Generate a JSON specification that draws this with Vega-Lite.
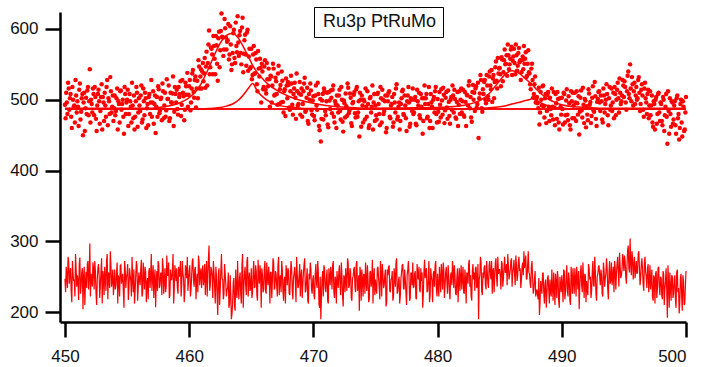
{
"$schema": "https://vega.github.io/schema/vega-lite/v6.json",
"width": 626,
"height": 310,
"padding": {"left": 60, "top": 12, "right": 16, "bottom": 45},
"autosize": {"type": "none"},
"background": "white",
"config": {"view": {"stroke": null}, "font": "Liberation Sans"},
"datasets": {
"obs": [
{"x":450.0,"y":493,"r":247},{"x":450.1,"y":510,"r":264},{"x":450.2,"y":480,"r":234},{"x":450.3,"y":516,"r":270},{"x":450.4,"y":502,"r":256},{"x":450.5,"y":476,"r":230},{"x":450.6,"y":518,"r":272},{"x":450.7,"y":490,"r":244},{"x":450.8,"y":468,"r":222},{"x":450.9,"y":506,"r":260},
{"x":451.0,"y":498,"r":252},{"x":451.1,"y":463,"r":217},{"x":451.2,"y":523,"r":277},{"x":451.3,"y":483,"r":237},{"x":451.4,"y":508,"r":262},{"x":451.5,"y":496,"r":250},{"x":451.6,"y":456,"r":210},{"x":451.7,"y":503,"r":257},{"x":451.8,"y":513,"r":267},{"x":451.9,"y":478,"r":232},
{"x":452.0,"y":543,"r":297},{"x":452.1,"y":500,"r":254},{"x":452.2,"y":482,"r":236},{"x":452.3,"y":508,"r":262},{"x":452.4,"y":518,"r":272},{"x":452.5,"y":473,"r":227},{"x":452.6,"y":492,"r":246},{"x":452.7,"y":514,"r":268},{"x":452.8,"y":466,"r":220},{"x":452.9,"y":504,"r":258},
{"x":453.0,"y":458,"r":212},{"x":453.1,"y":496,"r":250},{"x":453.2,"y":510,"r":264},{"x":453.3,"y":476,"r":230},{"x":453.4,"y":528,"r":282},{"x":453.5,"y":502,"r":256},{"x":453.6,"y":480,"r":234},{"x":453.7,"y":512,"r":266},{"x":453.8,"y":490,"r":244},{"x":453.9,"y":470,"r":224},
{"x":454.0,"y":506,"r":260},{"x":454.1,"y":484,"r":238},{"x":454.2,"y":516,"r":270},{"x":454.3,"y":498,"r":252},{"x":454.4,"y":468,"r":222},{"x":454.5,"y":513,"r":267},{"x":454.6,"y":494,"r":248},{"x":454.7,"y":476,"r":230},{"x":454.8,"y":518,"r":272},{"x":454.9,"y":480,"r":234},
{"x":455.0,"y":500,"r":254},{"x":455.1,"y":463,"r":217},{"x":455.2,"y":508,"r":262},{"x":455.3,"y":490,"r":244},{"x":455.4,"y":524,"r":278},{"x":455.5,"y":474,"r":228},{"x":455.6,"y":458,"r":212},{"x":455.7,"y":498,"r":252},{"x":455.8,"y":510,"r":264},{"x":455.9,"y":482,"r":236},
{"x":456.0,"y":492,"r":246},{"x":456.1,"y":506,"r":260},{"x":456.2,"y":468,"r":222},{"x":456.3,"y":516,"r":270},{"x":456.4,"y":478,"r":232},{"x":456.5,"y":502,"r":256},{"x":456.6,"y":488,"r":242},{"x":456.7,"y":464,"r":218},{"x":456.8,"y":508,"r":262},{"x":456.9,"y":496,"r":250},
{"x":457.0,"y":476,"r":230},{"x":457.1,"y":512,"r":266},{"x":457.2,"y":494,"r":248},{"x":457.3,"y":453,"r":207},{"x":457.4,"y":504,"r":258},{"x":457.5,"y":519,"r":272},{"x":457.6,"y":481,"r":234},{"x":457.7,"y":501,"r":254},{"x":457.8,"y":471,"r":224},{"x":457.9,"y":512,"r":264},
{"x":458.0,"y":492,"r":244},{"x":458.1,"y":476,"r":228},{"x":458.2,"y":529,"r":280},{"x":458.3,"y":501,"r":252},{"x":458.4,"y":470,"r":220},{"x":458.5,"y":510,"r":260},{"x":458.6,"y":496,"r":246},{"x":458.7,"y":533,"r":282},{"x":458.8,"y":483,"r":232},{"x":458.9,"y":508,"r":256},
{"x":459.0,"y":514,"r":262},{"x":459.1,"y":479,"r":226},{"x":459.2,"y":504,"r":250},{"x":459.3,"y":526,"r":272},{"x":459.4,"y":493,"r":238},{"x":459.5,"y":510,"r":254},{"x":459.6,"y":471,"r":214},{"x":459.7,"y":524,"r":266},{"x":459.8,"y":507,"r":248},{"x":459.9,"y":490,"r":230},
{"x":460.0,"y":519,"r":258},{"x":460.1,"y":485,"r":222},{"x":460.2,"y":516,"r":252},{"x":460.3,"y":542,"r":276},{"x":460.4,"y":503,"r":236},{"x":460.5,"y":533,"r":264},{"x":460.6,"y":516,"r":244},{"x":460.7,"y":502,"r":228},{"x":460.8,"y":547,"r":270},{"x":460.9,"y":533,"r":254},
{"x":461.0,"y":516,"r":234},{"x":461.1,"y":552,"r":266},{"x":461.2,"y":537,"r":248},{"x":461.3,"y":517,"r":224},{"x":461.4,"y":568,"r":272},{"x":461.5,"y":552,"r":252},{"x":461.6,"y":598,"r":294},{"x":461.7,"y":546,"r":238},{"x":461.8,"y":572,"r":260},{"x":461.9,"y":536,"r":220},
{"x":462.0,"y":576,"r":256},{"x":462.1,"y":536,"r":212},{"x":462.2,"y":577,"r":250},{"x":462.3,"y":527,"r":196},{"x":462.4,"y":596,"r":262},{"x":462.5,"y":570,"r":232},{"x":462.6,"y":622,"r":282},{"x":462.7,"y":588,"r":246},{"x":462.8,"y":571,"r":226},{"x":462.9,"y":601,"r":254},
{"x":463.0,"y":571,"r":222},{"x":463.1,"y":584,"r":234},{"x":463.2,"y":557,"r":206},{"x":463.3,"y":604,"r":252},{"x":463.4,"y":542,"r":190},{"x":463.5,"y":566,"r":214},{"x":463.6,"y":599,"r":248},{"x":463.7,"y":552,"r":202},{"x":463.8,"y":576,"r":228},{"x":463.9,"y":618,"r":272},
{"x":464.0,"y":562,"r":218},{"x":464.1,"y":597,"r":256},{"x":464.2,"y":550,"r":212},{"x":464.3,"y":616,"r":282},{"x":464.4,"y":565,"r":234},{"x":464.5,"y":592,"r":264},{"x":464.6,"y":548,"r":224},{"x":464.7,"y":599,"r":278},{"x":464.8,"y":561,"r":244},{"x":464.9,"y":544,"r":230},
{"x":465.0,"y":572,"r":262},{"x":465.1,"y":535,"r":228},{"x":465.2,"y":576,"r":272},{"x":465.3,"y":537,"r":236},{"x":465.4,"y":557,"r":258},{"x":465.5,"y":512,"r":216},{"x":465.6,"y":544,"r":250},{"x":465.7,"y":558,"r":266},{"x":465.8,"y":496,"r":206},{"x":465.9,"y":540,"r":252},
{"x":466.0,"y":518,"r":232},{"x":466.1,"y":556,"r":272},{"x":466.2,"y":509,"r":226},{"x":466.3,"y":529,"r":248},{"x":466.4,"y":544,"r":264},{"x":466.5,"y":490,"r":212},{"x":466.6,"y":533,"r":256},{"x":466.7,"y":520,"r":244},{"x":466.8,"y":544,"r":270},{"x":466.9,"y":507,"r":234},
{"x":467.0,"y":526,"r":254},{"x":467.1,"y":493,"r":222},{"x":467.2,"y":548,"r":278},{"x":467.3,"y":515,"r":246},{"x":467.4,"y":496,"r":228},{"x":467.5,"y":527,"r":260},{"x":467.6,"y":482,"r":216},{"x":467.7,"y":515,"r":250},{"x":467.8,"y":530,"r":266},{"x":467.9,"y":502,"r":238},
{"x":468.0,"y":521,"r":258},{"x":468.1,"y":486,"r":224},{"x":468.2,"y":534,"r":272},{"x":468.3,"y":493,"r":232},{"x":468.4,"y":508,"r":248},{"x":468.5,"y":524,"r":264},{"x":468.6,"y":473,"r":214},{"x":468.7,"y":512,"r":254},{"x":468.8,"y":494,"r":236},{"x":468.9,"y":525,"r":268},
{"x":469.0,"y":507,"r":250},{"x":469.1,"y":476,"r":220},{"x":469.2,"y":512,"r":256},{"x":469.3,"y":531,"r":276},{"x":469.4,"y":485,"r":230},{"x":469.5,"y":517,"r":262},{"x":469.6,"y":466,"r":212},{"x":469.7,"y":500,"r":246},{"x":469.8,"y":513,"r":260},{"x":469.9,"y":479,"r":226},
{"x":470.0,"y":505,"r":252},{"x":470.1,"y":471,"r":218},{"x":470.2,"y":520,"r":268},{"x":470.3,"y":486,"r":234},{"x":470.4,"y":508,"r":256},{"x":470.5,"y":457,"r":206},{"x":470.6,"y":441,"r":190},{"x":470.7,"y":499,"r":248},{"x":470.8,"y":472,"r":222},{"x":470.9,"y":512,"r":262},
{"x":471.0,"y":478,"r":228},{"x":471.1,"y":510,"r":260},{"x":471.2,"y":461,"r":212},{"x":471.3,"y":499,"r":250},{"x":471.4,"y":513,"r":264},{"x":471.5,"y":481,"r":232},{"x":471.6,"y":520,"r":272},{"x":471.7,"y":468,"r":220},{"x":471.8,"y":494,"r":246},{"x":471.9,"y":506,"r":258},
{"x":472.0,"y":482,"r":234},{"x":472.1,"y":514,"r":266},{"x":472.2,"y":472,"r":224},{"x":472.3,"y":500,"r":252},{"x":472.4,"y":455,"r":208},{"x":472.5,"y":495,"r":248},{"x":472.6,"y":509,"r":262},{"x":472.7,"y":477,"r":230},{"x":472.8,"y":517,"r":270},{"x":472.9,"y":485,"r":238},
{"x":473.0,"y":503,"r":256},{"x":473.1,"y":463,"r":216},{"x":473.2,"y":497,"r":250},{"x":473.3,"y":511,"r":264},{"x":473.4,"y":475,"r":228},{"x":473.5,"y":518,"r":272},{"x":473.6,"y":482,"r":236},{"x":473.7,"y":448,"r":202},{"x":473.8,"y":500,"r":254},{"x":473.9,"y":506,"r":260},
{"x":474.0,"y":468,"r":222},{"x":474.1,"y":498,"r":252},{"x":474.2,"y":516,"r":270},{"x":474.3,"y":476,"r":230},{"x":474.4,"y":494,"r":248},{"x":474.5,"y":464,"r":218},{"x":474.6,"y":504,"r":258},{"x":474.7,"y":490,"r":244},{"x":474.8,"y":458,"r":212},{"x":474.9,"y":508,"r":262},
{"x":475.0,"y":492,"r":246},{"x":475.1,"y":472,"r":226},{"x":475.2,"y":510,"r":264},{"x":475.3,"y":480,"r":234},{"x":475.4,"y":518,"r":272},{"x":475.5,"y":468,"r":222},{"x":475.6,"y":500,"r":254},{"x":475.7,"y":484,"r":238},{"x":475.8,"y":506,"r":260},{"x":475.9,"y":460,"r":214},
{"x":476.0,"y":498,"r":252},{"x":476.1,"y":512,"r":266},{"x":476.2,"y":474,"r":228},{"x":476.3,"y":494,"r":248},{"x":476.4,"y":462,"r":216},{"x":476.5,"y":508,"r":262},{"x":476.6,"y":482,"r":236},{"x":476.7,"y":522,"r":276},{"x":476.8,"y":476,"r":230},{"x":476.9,"y":496,"r":250},
{"x":477.0,"y":470,"r":224},{"x":477.1,"y":502,"r":256},{"x":477.2,"y":514,"r":268},{"x":477.3,"y":478,"r":232},{"x":477.4,"y":492,"r":246},{"x":477.5,"y":456,"r":210},{"x":477.6,"y":506,"r":260},{"x":477.7,"y":496,"r":250},{"x":477.8,"y":466,"r":220},{"x":477.9,"y":500,"r":254},
{"x":478.0,"y":516,"r":270},{"x":478.1,"y":482,"r":236},{"x":478.2,"y":504,"r":258},{"x":478.3,"y":464,"r":218},{"x":478.4,"y":498,"r":252},{"x":478.5,"y":510,"r":264},{"x":478.6,"y":474,"r":228},{"x":478.7,"y":490,"r":244},{"x":478.8,"y":452,"r":206},{"x":478.9,"y":502,"r":256},
{"x":479.0,"y":494,"r":248},{"x":479.1,"y":508,"r":262},{"x":479.2,"y":476,"r":230},{"x":479.3,"y":518,"r":272},{"x":479.4,"y":470,"r":224},{"x":479.5,"y":496,"r":250},{"x":479.6,"y":460,"r":214},{"x":479.7,"y":504,"r":258},{"x":479.8,"y":512,"r":266},{"x":479.9,"y":480,"r":234},
{"x":480.0,"y":501,"r":254},{"x":480.1,"y":469,"r":222},{"x":480.2,"y":493,"r":246},{"x":480.3,"y":515,"r":268},{"x":480.4,"y":479,"r":232},{"x":480.5,"y":507,"r":260},{"x":480.6,"y":485,"r":238},{"x":480.7,"y":511,"r":264},{"x":480.8,"y":473,"r":226},{"x":480.9,"y":497,"r":250},
{"x":481.0,"y":466,"r":218},{"x":481.1,"y":504,"r":256},{"x":481.2,"y":520,"r":272},{"x":481.3,"y":482,"r":234},{"x":481.4,"y":501,"r":252},{"x":481.5,"y":473,"r":224},{"x":481.6,"y":511,"r":262},{"x":481.7,"y":493,"r":244},{"x":481.8,"y":480,"r":230},{"x":481.9,"y":516,"r":266},
{"x":482.0,"y":498,"r":248},{"x":482.1,"y":478,"r":228},{"x":482.2,"y":511,"r":260},{"x":482.3,"y":463,"r":212},{"x":482.4,"y":506,"r":254},{"x":482.5,"y":520,"r":268},{"x":482.6,"y":488,"r":236},{"x":482.7,"y":475,"r":222},{"x":482.8,"y":511,"r":258},{"x":482.9,"y":500,"r":246},
{"x":483.0,"y":484,"r":230},{"x":483.1,"y":519,"r":264},{"x":483.2,"y":494,"r":238},{"x":483.3,"y":446,"r":190},{"x":483.4,"y":509,"r":252},{"x":483.5,"y":528,"r":270},{"x":483.6,"y":483,"r":224},{"x":483.7,"y":508,"r":248},{"x":483.8,"y":528,"r":266},{"x":483.9,"y":495,"r":232},
{"x":484.0,"y":520,"r":256},{"x":484.1,"y":500,"r":234},{"x":484.2,"y":540,"r":272},{"x":484.3,"y":515,"r":246},{"x":484.4,"y":497,"r":226},{"x":484.5,"y":535,"r":262},{"x":484.6,"y":525,"r":250},{"x":484.7,"y":554,"r":276},{"x":484.8,"y":516,"r":236},{"x":484.9,"y":537,"r":254},
{"x":485.0,"y":545,"r":260},{"x":485.1,"y":519,"r":232},{"x":485.2,"y":557,"r":268},{"x":485.3,"y":539,"r":248},{"x":485.4,"y":571,"r":278},{"x":485.5,"y":551,"r":256},{"x":485.6,"y":534,"r":238},{"x":485.7,"y":563,"r":266},{"x":485.8,"y":550,"r":252},{"x":485.9,"y":571,"r":272},
{"x":486.0,"y":535,"r":236},{"x":486.1,"y":561,"r":262},{"x":486.2,"y":552,"r":254},{"x":486.3,"y":578,"r":280},{"x":486.4,"y":541,"r":244},{"x":486.5,"y":566,"r":270},{"x":486.6,"y":553,"r":258},{"x":486.7,"y":528,"r":234},{"x":486.8,"y":556,"r":264},{"x":486.9,"y":543,"r":252},
{"x":487.0,"y":551,"r":262},{"x":487.1,"y":567,"r":280},{"x":487.2,"y":534,"r":248},{"x":487.3,"y":570,"r":286},{"x":487.4,"y":537,"r":254},{"x":487.5,"y":515,"r":234},{"x":487.6,"y":551,"r":272},{"x":487.7,"y":503,"r":226},{"x":487.8,"y":522,"r":246},{"x":487.9,"y":496,"r":222},
{"x":488.0,"y":504,"r":232},{"x":488.1,"y":488,"r":218},{"x":488.2,"y":465,"r":196},{"x":488.3,"y":511,"r":244},{"x":488.4,"y":492,"r":226},{"x":488.5,"y":520,"r":256},{"x":488.6,"y":475,"r":212},{"x":488.7,"y":508,"r":246},{"x":488.8,"y":484,"r":224},{"x":488.9,"y":511,"r":252},
{"x":489.0,"y":470,"r":212},{"x":489.1,"y":487,"r":230},{"x":489.2,"y":516,"r":260},{"x":489.3,"y":472,"r":216},{"x":489.4,"y":489,"r":234},{"x":489.5,"y":508,"r":254},{"x":489.6,"y":473,"r":220},{"x":489.7,"y":501,"r":248},{"x":489.8,"y":458,"r":206},{"x":489.9,"y":490,"r":238},
{"x":490.0,"y":503,"r":252},{"x":490.1,"y":465,"r":214},{"x":490.2,"y":508,"r":258},{"x":490.3,"y":478,"r":228},{"x":490.4,"y":515,"r":266},{"x":490.5,"y":471,"r":222},{"x":490.6,"y":495,"r":246},{"x":490.7,"y":458,"r":210},{"x":490.8,"y":498,"r":250},{"x":490.9,"y":510,"r":262},
{"x":491.0,"y":474,"r":226},{"x":491.1,"y":496,"r":248},{"x":491.2,"y":512,"r":264},{"x":491.3,"y":479,"r":232},{"x":491.4,"y":451,"r":204},{"x":491.5,"y":503,"r":256},{"x":491.6,"y":485,"r":238},{"x":491.7,"y":517,"r":270},{"x":491.8,"y":467,"r":220},{"x":491.9,"y":499,"r":252},
{"x":492.0,"y":491,"r":244},{"x":492.1,"y":471,"r":224},{"x":492.2,"y":509,"r":262},{"x":492.3,"y":497,"r":250},{"x":492.4,"y":477,"r":230},{"x":492.5,"y":519,"r":272},{"x":492.6,"y":483,"r":236},{"x":492.7,"y":505,"r":258},{"x":492.8,"y":463,"r":216},{"x":492.9,"y":501,"r":254},
{"x":493.0,"y":512,"r":266},{"x":493.1,"y":484,"r":238},{"x":493.2,"y":498,"r":252},{"x":493.3,"y":468,"r":222},{"x":493.4,"y":506,"r":260},{"x":493.5,"y":494,"r":248},{"x":493.6,"y":522,"r":276},{"x":493.7,"y":478,"r":232},{"x":493.8,"y":502,"r":256},{"x":493.9,"y":486,"r":240},
{"x":494.0,"y":516,"r":270},{"x":494.1,"y":496,"r":250},{"x":494.2,"y":474,"r":228},{"x":494.3,"y":508,"r":262},{"x":494.4,"y":500,"r":254},{"x":494.5,"y":524,"r":278},{"x":494.6,"y":482,"r":236},{"x":494.7,"y":510,"r":264},{"x":494.8,"y":498,"r":252},{"x":494.9,"y":528,"r":282},
{"x":495.0,"y":504,"r":258},{"x":495.1,"y":518,"r":272},{"x":495.2,"y":486,"r":240},{"x":495.3,"y":534,"r":288},{"x":495.4,"y":508,"r":262},{"x":495.5,"y":550,"r":304},{"x":495.6,"y":498,"r":252},{"x":495.7,"y":522,"r":276},{"x":495.8,"y":512,"r":266},{"x":495.9,"y":494,"r":248},
{"x":496.0,"y":518,"r":272},{"x":496.1,"y":502,"r":256},{"x":496.2,"y":532,"r":286},{"x":496.3,"y":484,"r":238},{"x":496.4,"y":514,"r":268},{"x":496.5,"y":506,"r":260},{"x":496.6,"y":476,"r":230},{"x":496.7,"y":524,"r":278},{"x":496.8,"y":496,"r":250},{"x":496.9,"y":508,"r":262},
{"x":497.0,"y":474,"r":228},{"x":497.1,"y":512,"r":266},{"x":497.2,"y":492,"r":246},{"x":497.3,"y":468,"r":222},{"x":497.4,"y":498,"r":252},{"x":497.5,"y":458,"r":212},{"x":497.6,"y":504,"r":258},{"x":497.7,"y":480,"r":234},{"x":497.8,"y":510,"r":264},{"x":497.9,"y":470,"r":224},
{"x":498.0,"y":494,"r":248},{"x":498.1,"y":464,"r":218},{"x":498.2,"y":500,"r":254},{"x":498.3,"y":478,"r":232},{"x":498.4,"y":508,"r":262},{"x":498.5,"y":438,"r":192},{"x":498.6,"y":484,"r":238},{"x":498.7,"y":502,"r":256},{"x":498.8,"y":462,"r":216},{"x":498.9,"y":496,"r":250},
{"x":499.0,"y":472,"r":226},{"x":499.1,"y":498,"r":252},{"x":499.2,"y":452,"r":206},{"x":499.3,"y":506,"r":260},{"x":499.4,"y":480,"r":234},{"x":499.5,"y":460,"r":214},{"x":499.6,"y":500,"r":254},{"x":499.7,"y":448,"r":202},{"x":499.8,"y":490,"r":244},{"x":499.9,"y":458,"r":212},
{"x":500.0,"y":504,"r":258},
{"x":450.05,"y":474,"r":228},{"x":450.15,"y":496,"r":250},{"x":450.25,"y":524,"r":278},{"x":450.35,"y":486,"r":240},{"x":450.45,"y":508,"r":262},{"x":450.55,"y":460,"r":214},{"x":450.65,"y":500,"r":254},{"x":450.75,"y":492,"r":246},{"x":450.85,"y":528,"r":282},{"x":450.95,"y":482,"r":236},
{"x":451.05,"y":490,"r":244},{"x":451.15,"y":514,"r":268},{"x":451.25,"y":472,"r":226},{"x":451.35,"y":502,"r":256},{"x":451.45,"y":450,"r":204},{"x":451.55,"y":510,"r":264},{"x":451.65,"y":488,"r":242},{"x":451.75,"y":480,"r":234},{"x":451.85,"y":518,"r":272},{"x":451.95,"y":498,"r":252},
{"x":452.05,"y":468,"r":222},{"x":452.15,"y":494,"r":248},{"x":452.25,"y":516,"r":270},{"x":452.35,"y":478,"r":232},{"x":452.45,"y":504,"r":258},{"x":452.55,"y":456,"r":210},{"x":452.65,"y":508,"r":262},{"x":452.75,"y":498,"r":252},{"x":452.85,"y":484,"r":238},{"x":452.95,"y":522,"r":276},
{"x":453.05,"y":504,"r":258},{"x":453.15,"y":470,"r":224},{"x":453.25,"y":492,"r":246},{"x":453.35,"y":518,"r":272},{"x":453.45,"y":464,"r":218},{"x":453.55,"y":498,"r":252},{"x":453.65,"y":532,"r":286},{"x":453.75,"y":482,"r":236},{"x":453.85,"y":506,"r":260},{"x":453.95,"y":488,"r":242},
{"x":454.05,"y":478,"r":232},{"x":454.15,"y":502,"r":256},{"x":454.25,"y":458,"r":212},{"x":454.35,"y":494,"r":248},{"x":454.45,"y":512,"r":266},{"x":454.55,"y":486,"r":240},{"x":454.65,"y":500,"r":254},{"x":454.75,"y":452,"r":206},{"x":454.85,"y":508,"r":262},{"x":454.95,"y":496,"r":250},
{"x":455.05,"y":514,"r":268},{"x":455.15,"y":480,"r":234},{"x":455.25,"y":498,"r":252},{"x":455.35,"y":468,"r":222},{"x":455.45,"y":492,"r":246},{"x":455.55,"y":506,"r":260},{"x":455.65,"y":476,"r":230},{"x":455.75,"y":518,"r":272},{"x":455.85,"y":462,"r":216},{"x":455.95,"y":502,"r":256},
{"x":456.05,"y":484,"r":238},{"x":456.15,"y":520,"r":274},{"x":456.25,"y":472,"r":226},{"x":456.35,"y":498,"r":252},{"x":456.45,"y":510,"r":264},{"x":456.55,"y":460,"r":214},{"x":456.65,"y":494,"r":248},{"x":456.75,"y":504,"r":258},{"x":456.85,"y":480,"r":234},{"x":456.95,"y":528,"r":282},
{"x":457.05,"y":496,"r":250},{"x":457.15,"y":466,"r":220},{"x":457.25,"y":506,"r":260},{"x":457.35,"y":490,"r":244},{"x":457.45,"y":476,"r":230},{"x":457.55,"y":515,"r":268},{"x":457.65,"y":485,"r":238},{"x":457.75,"y":503,"r":256},{"x":457.85,"y":523,"r":276},{"x":457.95,"y":474,"r":226},
{"x":458.05,"y":510,"r":262},{"x":458.15,"y":485,"r":236},{"x":458.25,"y":501,"r":252},{"x":458.35,"y":520,"r":270},{"x":458.45,"y":474,"r":224},{"x":458.55,"y":496,"r":246},{"x":458.65,"y":509,"r":258},{"x":458.75,"y":463,"r":212},{"x":458.85,"y":518,"r":266},{"x":458.95,"y":496,"r":244},
{"x":459.05,"y":487,"r":234},{"x":459.15,"y":518,"r":264},{"x":459.25,"y":508,"r":254},{"x":459.35,"y":477,"r":222},{"x":459.45,"y":528,"r":272},{"x":459.55,"y":505,"r":248},{"x":459.65,"y":486,"r":228},{"x":459.75,"y":519,"r":260},{"x":459.85,"y":538,"r":278},{"x":459.95,"y":507,"r":246},
{"x":460.05,"y":528,"r":266},{"x":460.15,"y":496,"r":232},{"x":460.25,"y":537,"r":272},{"x":460.35,"y":511,"r":244},{"x":460.45,"y":528,"r":260},{"x":460.55,"y":489,"r":218},{"x":460.65,"y":527,"r":254},{"x":460.75,"y":556,"r":280},{"x":460.85,"y":516,"r":238},{"x":460.95,"y":543,"r":262},
{"x":461.05,"y":540,"r":256},{"x":461.15,"y":526,"r":238},{"x":461.25,"y":559,"r":268},{"x":461.35,"y":547,"r":252},{"x":461.45,"y":520,"r":222},{"x":461.55,"y":578,"r":276},{"x":461.65,"y":536,"r":230},{"x":461.75,"y":574,"r":264},{"x":461.85,"y":564,"r":250},{"x":461.95,"y":590,"r":272},
{"x":462.05,"y":558,"r":236},{"x":462.15,"y":590,"r":264},{"x":462.25,"y":551,"r":222},{"x":462.35,"y":587,"r":254},{"x":462.45,"y":546,"r":210},{"x":462.55,"y":597,"r":258},{"x":462.65,"y":589,"r":248},{"x":462.75,"y":562,"r":218},{"x":462.85,"y":614,"r":268},{"x":462.95,"y":588,"r":240},
{"x":463.05,"y":582,"r":232},{"x":463.15,"y":607,"r":256},{"x":463.25,"y":564,"r":212},{"x":463.35,"y":578,"r":226},{"x":463.45,"y":550,"r":198},{"x":463.55,"y":594,"r":242},{"x":463.65,"y":559,"r":208},{"x":463.75,"y":609,"r":260},{"x":463.85,"y":567,"r":220},{"x":463.95,"y":581,"r":236},
{"x":464.05,"y":591,"r":248},{"x":464.15,"y":566,"r":226},{"x":464.25,"y":602,"r":266},{"x":464.35,"y":539,"r":206},{"x":464.45,"y":584,"r":254},{"x":464.55,"y":564,"r":238},{"x":464.65,"y":595,"r":272},{"x":464.75,"y":541,"r":222},{"x":464.85,"y":572,"r":256},{"x":464.95,"y":546,"r":234},
{"x":465.05,"y":529,"r":220},{"x":465.15,"y":564,"r":258},{"x":465.25,"y":537,"r":234},{"x":465.35,"y":566,"r":266},{"x":465.45,"y":522,"r":224},{"x":465.55,"y":569,"r":274},{"x":465.65,"y":533,"r":240},{"x":465.75,"y":545,"r":254},{"x":465.85,"y":551,"r":262},{"x":465.95,"y":515,"r":228},
{"x":466.05,"y":547,"r":262},{"x":466.15,"y":514,"r":230},{"x":466.25,"y":552,"r":270},{"x":466.35,"y":519,"r":238},{"x":466.45,"y":529,"r":250},{"x":466.55,"y":534,"r":256},{"x":466.65,"y":496,"r":220},{"x":466.75,"y":551,"r":276},{"x":466.85,"y":506,"r":232},{"x":466.95,"y":531,"r":258},
{"x":467.05,"y":508,"r":236},{"x":467.15,"y":537,"r":266},{"x":467.25,"y":494,"r":224},{"x":467.35,"y":521,"r":252},{"x":467.45,"y":540,"r":272},{"x":467.55,"y":497,"r":230},{"x":467.65,"y":512,"r":246},{"x":467.75,"y":477,"r":212},{"x":467.85,"y":520,"r":256},{"x":467.95,"y":525,"r":262},
{"x":468.05,"y":489,"r":226},{"x":468.15,"y":512,"r":250},{"x":468.25,"y":523,"r":262},{"x":468.35,"y":479,"r":218},{"x":468.45,"y":516,"r":256},{"x":468.55,"y":503,"r":244},{"x":468.65,"y":537,"r":278},{"x":468.75,"y":492,"r":234},{"x":468.85,"y":509,"r":252},{"x":468.95,"y":479,"r":222},
{"x":469.05,"y":516,"r":260},{"x":469.15,"y":494,"r":238},{"x":469.25,"y":523,"r":268},{"x":469.35,"y":483,"r":228},{"x":469.45,"y":503,"r":248},{"x":469.55,"y":470,"r":216},{"x":469.65,"y":508,"r":254},{"x":469.75,"y":523,"r":270},{"x":469.85,"y":485,"r":232},{"x":469.95,"y":499,"r":246},
{"x":470.05,"y":477,"r":224},{"x":470.15,"y":506,"r":254},{"x":470.25,"y":492,"r":240},{"x":470.35,"y":524,"r":272},{"x":470.45,"y":463,"r":212},{"x":470.55,"y":501,"r":250},{"x":470.65,"y":473,"r":222},{"x":470.75,"y":508,"r":258},{"x":470.85,"y":516,"r":266},{"x":470.95,"y":484,"r":234},
{"x":471.05,"y":498,"r":248},{"x":471.15,"y":465,"r":216},{"x":471.25,"y":511,"r":262},{"x":471.35,"y":487,"r":238},{"x":471.45,"y":503,"r":254},{"x":471.55,"y":514,"r":266},{"x":471.65,"y":476,"r":228},{"x":471.75,"y":498,"r":250},{"x":471.85,"y":460,"r":212},{"x":471.95,"y":492,"r":244},
{"x":472.05,"y":506,"r":258},{"x":472.15,"y":484,"r":236},{"x":472.25,"y":518,"r":270},{"x":472.35,"y":469,"r":222},{"x":472.45,"y":499,"r":252},{"x":472.55,"y":475,"r":228},{"x":472.65,"y":491,"r":244},{"x":472.75,"y":523,"r":276},{"x":472.85,"y":481,"r":234},{"x":472.95,"y":509,"r":262},
{"x":473.05,"y":467,"r":220},{"x":473.15,"y":495,"r":248},{"x":473.25,"y":507,"r":260},{"x":473.35,"y":481,"r":234},{"x":473.45,"y":515,"r":268},{"x":473.55,"y":476,"r":230},{"x":473.65,"y":498,"r":252},{"x":473.75,"y":510,"r":264},{"x":473.85,"y":462,"r":216},{"x":473.95,"y":492,"r":246},
{"x":474.05,"y":500,"r":254},{"x":474.15,"y":472,"r":226},{"x":474.25,"y":490,"r":244},{"x":474.35,"y":512,"r":266},{"x":474.45,"y":460,"r":214},{"x":474.55,"y":502,"r":256},{"x":474.65,"y":482,"r":236},{"x":474.75,"y":520,"r":274},{"x":474.85,"y":496,"r":250},{"x":474.95,"y":470,"r":224},
{"x":475.05,"y":478,"r":232},{"x":475.15,"y":508,"r":262},{"x":475.25,"y":494,"r":248},{"x":475.35,"y":464,"r":218},{"x":475.45,"y":502,"r":256},{"x":475.55,"y":514,"r":268},{"x":475.65,"y":480,"r":234},{"x":475.75,"y":498,"r":252},{"x":475.85,"y":454,"r":208},{"x":475.95,"y":506,"r":260},
{"x":476.05,"y":510,"r":264},{"x":476.15,"y":476,"r":230},{"x":476.25,"y":492,"r":246},{"x":476.35,"y":504,"r":258},{"x":476.45,"y":468,"r":222},{"x":476.55,"y":496,"r":250},{"x":476.65,"y":516,"r":270},{"x":476.75,"y":472,"r":226},{"x":476.85,"y":490,"r":244},{"x":476.95,"y":458,"r":212},
{"x":477.05,"y":494,"r":248},{"x":477.15,"y":512,"r":266},{"x":477.25,"y":480,"r":234},{"x":477.35,"y":506,"r":260},{"x":477.45,"y":474,"r":228},{"x":477.55,"y":498,"r":252},{"x":477.65,"y":518,"r":272},{"x":477.75,"y":462,"r":216},{"x":477.85,"y":502,"r":256},{"x":477.95,"y":484,"r":238},
{"x":478.05,"y":480,"r":234},{"x":478.15,"y":500,"r":254},{"x":478.25,"y":466,"r":220},{"x":478.35,"y":514,"r":268},{"x":478.45,"y":492,"r":246},{"x":478.55,"y":478,"r":232},{"x":478.65,"y":508,"r":262},{"x":478.75,"y":502,"r":256},{"x":478.85,"y":470,"r":224},{"x":478.95,"y":520,"r":274},
{"x":479.05,"y":502,"r":256},{"x":479.15,"y":474,"r":228},{"x":479.25,"y":494,"r":248},{"x":479.35,"y":460,"r":214},{"x":479.45,"y":508,"r":262},{"x":479.55,"y":490,"r":244},{"x":479.65,"y":500,"r":254},{"x":479.75,"y":482,"r":236},{"x":479.85,"y":518,"r":272},{"x":479.95,"y":468,"r":222},
{"x":480.05,"y":483,"r":236},{"x":480.15,"y":511,"r":264},{"x":480.25,"y":475,"r":228},{"x":480.35,"y":499,"r":252},{"x":480.45,"y":517,"r":270},{"x":480.55,"y":467,"r":220},{"x":480.65,"y":503,"r":256},{"x":480.75,"y":489,"r":242},{"x":480.85,"y":513,"r":266},{"x":480.95,"y":477,"r":230},
{"x":481.05,"y":500,"r":252},{"x":481.15,"y":486,"r":238},{"x":481.25,"y":506,"r":258},{"x":481.35,"y":514,"r":266},{"x":481.45,"y":475,"r":226},{"x":481.55,"y":497,"r":248},{"x":481.65,"y":463,"r":214},{"x":481.75,"y":512,"r":262},{"x":481.85,"y":500,"r":250},{"x":481.95,"y":482,"r":232},
{"x":482.05,"y":514,"r":264},{"x":482.15,"y":476,"r":226},{"x":482.25,"y":497,"r":246},{"x":482.35,"y":507,"r":256},{"x":482.45,"y":492,"r":240},{"x":482.55,"y":526,"r":274},{"x":482.65,"y":504,"r":252},{"x":482.75,"y":469,"r":216},{"x":482.85,"y":521,"r":268},{"x":482.95,"y":510,"r":256},
{"x":483.05,"y":516,"r":262},{"x":483.15,"y":489,"r":234},{"x":483.25,"y":524,"r":268},{"x":483.35,"y":502,"r":246},{"x":483.45,"y":535,"r":278},{"x":483.55,"y":488,"r":230},{"x":483.65,"y":515,"r":256},{"x":483.75,"y":525,"r":264},{"x":483.85,"y":500,"r":238},{"x":483.95,"y":535,"r":272},
{"x":484.05,"y":505,"r":240},{"x":484.15,"y":533,"r":266},{"x":484.25,"y":520,"r":252},{"x":484.35,"y":542,"r":272},{"x":484.45,"y":530,"r":258},{"x":484.55,"y":502,"r":228},{"x":484.65,"y":546,"r":270},{"x":484.75,"y":527,"r":248},{"x":484.85,"y":559,"r":278},{"x":484.95,"y":544,"r":260},
{"x":485.05,"y":536,"r":250},{"x":485.15,"y":560,"r":272},{"x":485.25,"y":526,"r":236},{"x":485.35,"y":556,"r":264},{"x":485.45,"y":550,"r":256},{"x":485.55,"y":563,"r":268},{"x":485.65,"y":578,"r":282},{"x":485.75,"y":543,"r":246},{"x":485.85,"y":558,"r":260},{"x":485.95,"y":575,"r":276},
{"x":486.05,"y":555,"r":256},{"x":486.15,"y":572,"r":274},{"x":486.25,"y":536,"r":238},{"x":486.35,"y":563,"r":266},{"x":486.45,"y":548,"r":252},{"x":486.55,"y":573,"r":278},{"x":486.65,"y":556,"r":262},{"x":486.75,"y":539,"r":246},{"x":486.85,"y":561,"r":270},{"x":486.95,"y":576,"r":286},
{"x":487.05,"y":558,"r":270},{"x":487.15,"y":532,"r":246},{"x":487.25,"y":551,"r":266},{"x":487.35,"y":539,"r":256},{"x":487.45,"y":522,"r":240},{"x":487.55,"y":544,"r":264},{"x":487.65,"y":528,"r":250},{"x":487.75,"y":508,"r":232},{"x":487.85,"y":533,"r":258},{"x":487.95,"y":501,"r":228},
{"x":488.05,"y":495,"r":224},{"x":488.15,"y":517,"r":248},{"x":488.25,"y":482,"r":214},{"x":488.35,"y":500,"r":234},{"x":488.45,"y":519,"r":254},{"x":488.55,"y":491,"r":228},{"x":488.65,"y":502,"r":240},{"x":488.75,"y":467,"r":206},{"x":488.85,"y":507,"r":248},{"x":488.95,"y":490,"r":232},
{"x":489.05,"y":503,"r":246},{"x":489.15,"y":478,"r":222},{"x":489.25,"y":490,"r":234},{"x":489.35,"y":511,"r":256},{"x":489.45,"y":464,"r":210},{"x":489.55,"y":495,"r":242},{"x":489.65,"y":511,"r":258},{"x":489.75,"y":468,"r":216},{"x":489.85,"y":502,"r":250},{"x":489.95,"y":479,"r":228},
{"x":490.05,"y":487,"r":236},{"x":490.15,"y":510,"r":260},{"x":490.25,"y":468,"r":218},{"x":490.35,"y":499,"r":250},{"x":490.45,"y":479,"r":230},{"x":490.55,"y":505,"r":256},{"x":490.65,"y":464,"r":216},{"x":490.75,"y":512,"r":264},{"x":490.85,"y":474,"r":226},{"x":490.95,"y":492,"r":244},
{"x":491.05,"y":510,"r":262},{"x":491.15,"y":470,"r":222},{"x":491.25,"y":495,"r":248},{"x":491.35,"y":505,"r":258},{"x":491.45,"y":483,"r":236},{"x":491.55,"y":513,"r":266},{"x":491.65,"y":475,"r":228},{"x":491.75,"y":493,"r":246},{"x":491.85,"y":501,"r":254},{"x":491.95,"y":461,"r":214},
{"x":492.05,"y":479,"r":232},{"x":492.15,"y":515,"r":268},{"x":492.25,"y":493,"r":246},{"x":492.35,"y":467,"r":220},{"x":492.45,"y":503,"r":256},{"x":492.55,"y":485,"r":238},{"x":492.65,"y":525,"r":278},{"x":492.75,"y":473,"r":226},{"x":492.85,"y":497,"r":250},{"x":492.95,"y":511,"r":264},
{"x":493.05,"y":496,"r":250},{"x":493.15,"y":506,"r":260},{"x":493.25,"y":472,"r":226},{"x":493.35,"y":516,"r":270},{"x":493.45,"y":482,"r":236},{"x":493.55,"y":500,"r":254},{"x":493.65,"y":508,"r":262},{"x":493.75,"y":464,"r":218},{"x":493.85,"y":518,"r":272},{"x":493.95,"y":492,"r":246},
{"x":494.05,"y":484,"r":238},{"x":494.15,"y":510,"r":264},{"x":494.25,"y":518,"r":272},{"x":494.35,"y":478,"r":232},{"x":494.45,"y":514,"r":268},{"x":494.55,"y":502,"r":256},{"x":494.65,"y":530,"r":284},{"x":494.75,"y":494,"r":248},{"x":494.85,"y":506,"r":260},{"x":494.95,"y":520,"r":274},
{"x":495.05,"y":526,"r":280},{"x":495.15,"y":496,"r":250},{"x":495.25,"y":512,"r":266},{"x":495.35,"y":540,"r":294},{"x":495.45,"y":502,"r":256},{"x":495.55,"y":516,"r":270},{"x":495.65,"y":532,"r":286},{"x":495.75,"y":492,"r":246},{"x":495.85,"y":524,"r":278},{"x":495.95,"y":506,"r":260},
{"x":496.05,"y":500,"r":254},{"x":496.15,"y":528,"r":282},{"x":496.25,"y":510,"r":264},{"x":496.35,"y":494,"r":248},{"x":496.45,"y":522,"r":276},{"x":496.55,"y":486,"r":240},{"x":496.65,"y":516,"r":270},{"x":496.75,"y":502,"r":256},{"x":496.85,"y":480,"r":234},{"x":496.95,"y":514,"r":268},
{"x":497.05,"y":492,"r":246},{"x":497.15,"y":478,"r":232},{"x":497.25,"y":506,"r":260},{"x":497.35,"y":462,"r":216},{"x":497.45,"y":494,"r":248},{"x":497.55,"y":500,"r":254},{"x":497.65,"y":466,"r":220},{"x":497.75,"y":508,"r":262},{"x":497.85,"y":482,"r":236},{"x":497.95,"y":496,"r":250},
{"x":498.05,"y":470,"r":224},{"x":498.15,"y":504,"r":258},{"x":498.25,"y":456,"r":210},{"x":498.35,"y":490,"r":244},{"x":498.45,"y":476,"r":230},{"x":498.55,"y":512,"r":266},{"x":498.65,"y":452,"r":206},{"x":498.75,"y":480,"r":234},{"x":498.85,"y":498,"r":252},{"x":498.95,"y":466,"r":220},
{"x":499.05,"y":492,"r":246},{"x":499.15,"y":464,"r":218},{"x":499.25,"y":502,"r":256},{"x":499.35,"y":474,"r":228},{"x":499.45,"y":444,"r":198},{"x":499.55,"y":494,"r":248},{"x":499.65,"y":468,"r":222},{"x":499.75,"y":498,"r":252},{"x":499.85,"y":456,"r":210},{"x":499.95,"y":482,"r":236}
],
"fit": [
{"x":450,"env":488,"cb":487,"cd":487,"bg":487},
{"x":457,"env":488,"cb":487,"cd":487,"bg":487},
{"x":458,"env":490,"cb":487,"cd":487,"bg":487},
{"x":459,"env":494,"cb":487,"cd":487,"bg":487},
{"x":460,"env":503,"cb":487,"cd":487,"bg":487},
{"x":460.5,"env":511,"cb":487,"cd":487,"bg":487},
{"x":461,"env":524,"cb":487,"cd":487,"bg":487},
{"x":461.5,"env":542,"cb":487.5,"cd":487,"bg":487},
{"x":462,"env":562,"cb":488,"cd":487,"bg":487},
{"x":462.5,"env":580,"cb":489,"cd":487,"bg":487},
{"x":463,"env":591,"cb":491,"cd":487,"bg":487},
{"x":463.5,"env":594,"cb":494,"cd":487,"bg":487},
{"x":464,"env":586,"cb":500,"cd":487,"bg":487},
{"x":464.5,"env":570,"cb":510,"cd":487,"bg":487},
{"x":464.8,"env":560,"cb":517,"cd":487,"bg":487},
{"x":465.1,"env":549,"cb":523,"cd":487,"bg":487},
{"x":465.5,"env":538,"cb":512,"cd":487,"bg":487},
{"x":466,"env":528,"cb":503,"cd":487,"bg":487},
{"x":466.5,"env":520,"cb":497,"cd":487,"bg":487},
{"x":467,"env":514,"cb":493,"cd":487,"bg":487},
{"x":467.5,"env":509,"cb":491,"cd":487,"bg":487},
{"x":468,"env":505,"cb":490,"cd":487,"bg":487},
{"x":469,"env":499,"cb":488,"cd":487,"bg":487},
{"x":470,"env":495,"cb":487.5,"cd":487,"bg":487},
{"x":471,"env":492,"cb":487,"cd":487,"bg":487},
{"x":472,"env":490,"cb":487,"cd":487,"bg":487},
{"x":473,"env":489,"cb":487,"cd":487,"bg":487},
{"x":474,"env":488,"cb":487,"cd":487,"bg":487},
{"x":480,"env":489,"cb":487,"cd":487,"bg":487},
{"x":481,"env":490,"cb":487,"cd":487,"bg":487},
{"x":482,"env":492,"cb":487,"cd":487,"bg":487},
{"x":483,"env":496,"cb":487,"cd":487.5,"bg":487},
{"x":483.5,"env":500,"cb":487,"cd":488,"bg":487},
{"x":484,"env":506,"cb":487,"cd":488.5,"bg":487},
{"x":485,"env":527,"cb":487,"cd":490,"bg":487},
{"x":485.5,"env":537,"cb":487,"cd":491.5,"bg":487},
{"x":486,"env":541,"cb":487,"cd":494,"bg":487},
{"x":486.5,"env":538,"cb":487,"cd":496,"bg":487},
{"x":487,"env":531,"cb":487,"cd":498.5,"bg":487},
{"x":487.5,"env":523,"cb":487,"cd":501,"bg":487},
{"x":487.7,"env":520,"cb":487,"cd":503,"bg":487},
{"x":488,"env":514,"cb":487,"cd":499,"bg":487},
{"x":488.5,"env":506,"cb":487,"cd":494,"bg":487},
{"x":489,"env":500,"cb":487,"cd":491,"bg":487},
{"x":489.5,"env":496,"cb":487,"cd":489,"bg":487},
{"x":490,"env":493,"cb":487,"cd":488,"bg":487},
{"x":491,"env":490,"cb":487,"cd":487,"bg":487},
{"x":492,"env":489,"cb":487,"cd":487,"bg":487},
{"x":493,"env":488,"cb":487,"cd":487,"bg":487},
{"x":500,"env":488,"cb":487,"cd":487,"bg":487}
]
},
"encoding": {
"x": {"field": "x", "type": "quantitative", "scale": {"domain": [449.6, 500], "nice": false, "zero": false},
"axis": {"title": null, "values": [450,460,470,480,490,500], "grid": false, "domainColor": "#000", "domainWidth": 2.5, "tickColor": "#000", "tickWidth": 2.5, "tickSize": 15, "labelFontSize": 17, "labelColor": "#111", "labelPadding": 11, "labelFont": "Liberation Sans"}}
},
"layer": [
{"data": {"name": "obs"}, "mark": {"type": "point", "filled": true, "shape": "circle", "size": 20, "opacity": 1},
"encoding": {"y": {"field": "y", "type": "quantitative", "scale": {"domain": [186, 624], "nice": false, "zero": false},
"axis": {"title": null, "values": [200,300,400,500,600], "grid": false, "domainColor": "#000", "domainWidth": 2.5, "tickColor": "#000", "tickWidth": 2.5, "tickSize": 15, "labelFontSize": 17, "labelColor": "#111", "labelPadding": 7, "labelFont": "Liberation Sans"}},
"color": {"datum": "Ru3p PtRuMo", "type": "nominal", "scale": {"range": ["#ff0000"]},
"legend": {"title": null, "orient": "none", "legendX": 254, "legendY": -5, "symbolSize": 0, "symbolOpacity": 0, "symbolStrokeWidth": 0, "labelOffset": -15, "labelFontSize": 18, "labelColor": "#111", "labelFont": "Liberation Sans", "strokeColor": "#000", "padding": 6, "fillColor": "white"}}}},
{"data": {"name": "obs"}, "mark": {"type": "line", "color": "#ff0000", "strokeWidth": 1.2, "interpolate": "linear"},
"encoding": {"y": {"field": "r", "type": "quantitative"}}},
{"mark": {"type": "rule", "color": "#ff2020", "strokeWidth": 1.5}, "encoding": {"y": {"datum": 242}}},
{"data": {"name": "fit"}, "mark": {"type": "line", "color": "#ff0000", "strokeWidth": 1.5, "interpolate": "monotone"}, "encoding": {"y": {"field": "bg", "type": "quantitative"}}},
{"data": {"name": "fit"}, "mark": {"type": "line", "color": "#ff0000", "strokeWidth": 1.5, "interpolate": "monotone"}, "encoding": {"y": {"field": "cb", "type": "quantitative"}}},
{"data": {"name": "fit"}, "mark": {"type": "line", "color": "#ff0000", "strokeWidth": 1.5, "interpolate": "monotone"}, "encoding": {"y": {"field": "cd", "type": "quantitative"}}},
{"data": {"name": "fit"}, "mark": {"type": "line", "color": "#ff0000", "strokeWidth": 1.5, "interpolate": "monotone"}, "encoding": {"y": {"field": "env", "type": "quantitative"}}}
]
}
